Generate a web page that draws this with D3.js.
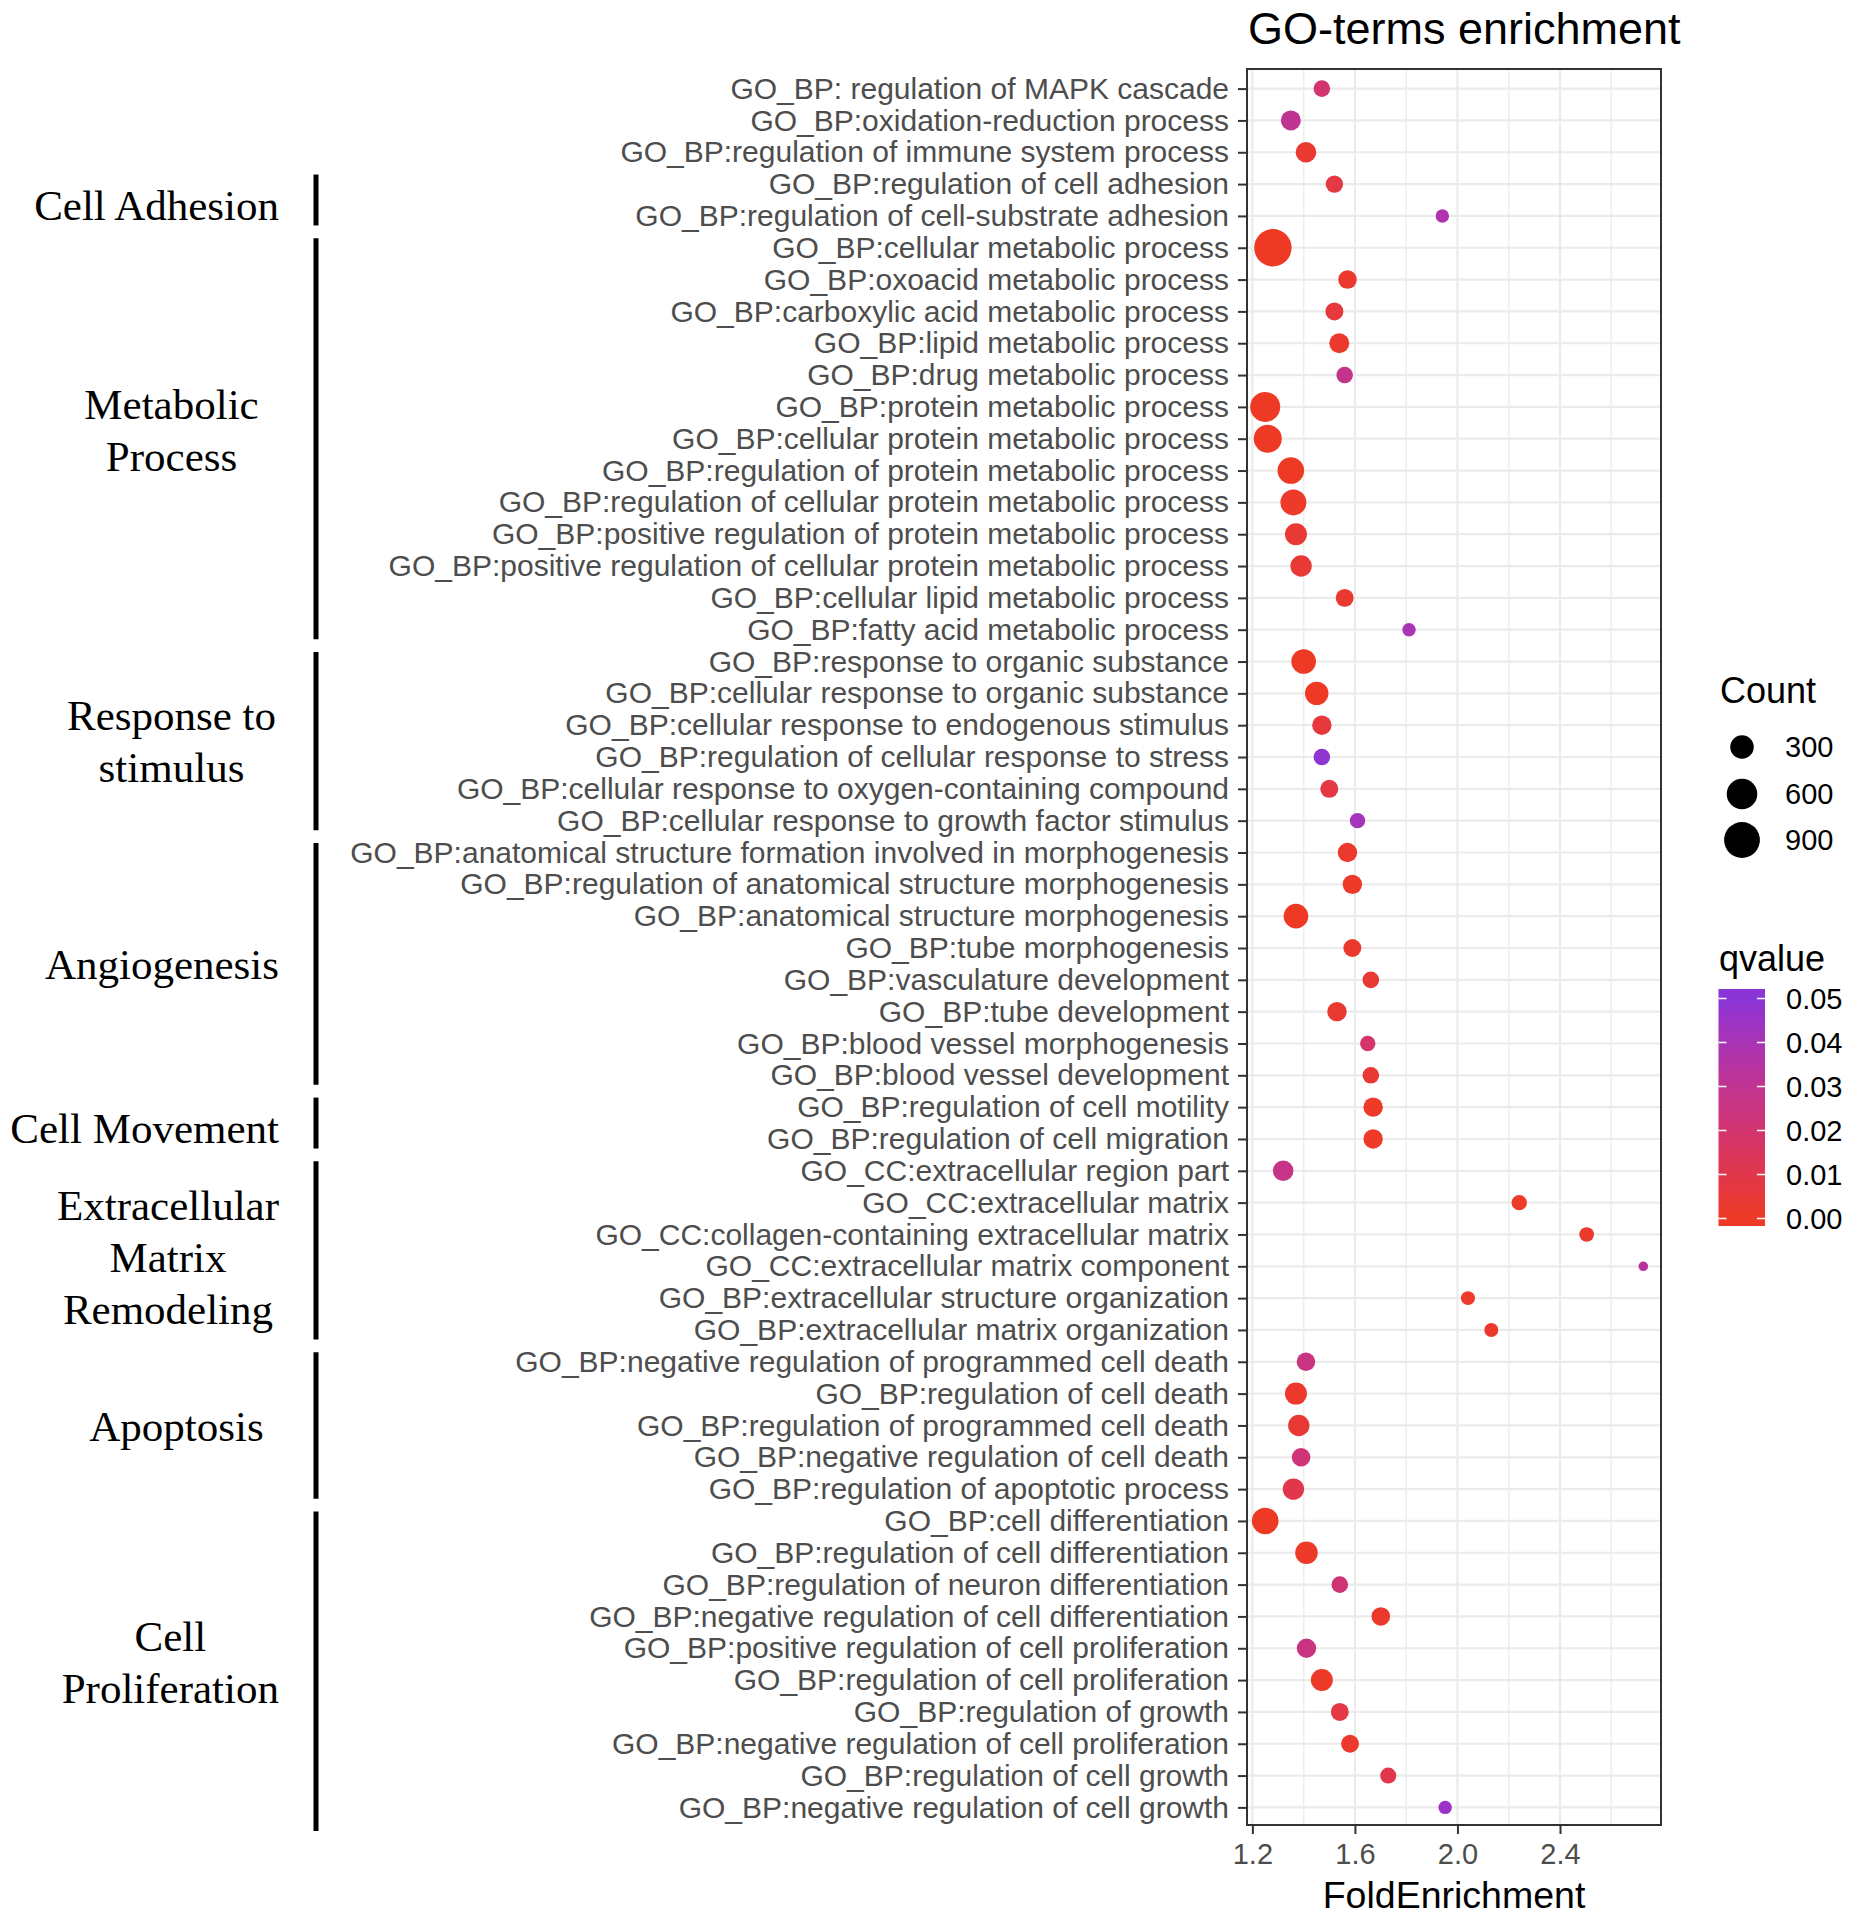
<!DOCTYPE html>
<html>
<head>
<meta charset="utf-8">
<script src="https://cdn.jsdelivr.net/npm/d3@7"></script>
<style>
  html, body { margin: 0; padding: 0; background: #fff; }
  svg { display: block; }
</style>
</head>
<body>
<svg id="chart" width="1852" height="1920"></svg>
<script>
// ---------------- DATA ----------------
const terms = [
  "GO_BP: regulation of MAPK cascade",
  "GO_BP:oxidation-reduction process",
  "GO_BP:regulation of immune system process",
  "GO_BP:regulation of cell adhesion",
  "GO_BP:regulation of cell-substrate adhesion",
  "GO_BP:cellular metabolic process",
  "GO_BP:oxoacid metabolic process",
  "GO_BP:carboxylic acid metabolic process",
  "GO_BP:lipid metabolic process",
  "GO_BP:drug metabolic process",
  "GO_BP:protein metabolic process",
  "GO_BP:cellular protein metabolic process",
  "GO_BP:regulation of protein metabolic process",
  "GO_BP:regulation of cellular protein metabolic process",
  "GO_BP:positive regulation of protein metabolic process",
  "GO_BP:positive regulation of cellular protein metabolic process",
  "GO_BP:cellular lipid metabolic process",
  "GO_BP:fatty acid metabolic process",
  "GO_BP:response to organic substance",
  "GO_BP:cellular response to organic substance",
  "GO_BP:cellular response to endogenous stimulus",
  "GO_BP:regulation of cellular response to stress",
  "GO_BP:cellular response to oxygen-containing compound",
  "GO_BP:cellular response to growth factor stimulus",
  "GO_BP:anatomical structure formation involved in morphogenesis",
  "GO_BP:regulation of anatomical structure morphogenesis",
  "GO_BP:anatomical structure morphogenesis",
  "GO_BP:tube morphogenesis",
  "GO_BP:vasculature development",
  "GO_BP:tube development",
  "GO_BP:blood vessel morphogenesis",
  "GO_BP:blood vessel development",
  "GO_BP:regulation of cell motility",
  "GO_BP:regulation of cell migration",
  "GO_CC:extracellular region part",
  "GO_CC:extracellular matrix",
  "GO_CC:collagen-containing extracellular matrix",
  "GO_CC:extracellular matrix component",
  "GO_BP:extracellular structure organization",
  "GO_BP:extracellular matrix organization",
  "GO_BP:negative regulation of programmed cell death",
  "GO_BP:regulation of cell death",
  "GO_BP:regulation of programmed cell death",
  "GO_BP:negative regulation of cell death",
  "GO_BP:regulation of apoptotic process",
  "GO_BP:cell differentiation",
  "GO_BP:regulation of cell differentiation",
  "GO_BP:regulation of neuron differentiation",
  "GO_BP:negative regulation of cell differentiation",
  "GO_BP:positive regulation of cell proliferation",
  "GO_BP:regulation of cell proliferation",
  "GO_BP:regulation of growth",
  "GO_BP:negative regulation of cell proliferation",
  "GO_BP:regulation of cell growth",
  "GO_BP:negative regulation of cell growth"
];

const foldEnrichment = [
  1.471, 1.350, 1.409, 1.520, 1.941,
  1.280, 1.571, 1.520, 1.539, 1.560, 1.250, 1.260, 1.350, 1.360, 1.370, 1.390, 1.560, 1.811,
  1.400, 1.451, 1.471, 1.471, 1.500, 1.610,
  1.571, 1.590, 1.370, 1.590, 1.662, 1.530, 1.650, 1.662,
  1.671, 1.671,
  1.320, 2.241, 2.504, 2.725, 2.041, 2.132,
  1.409, 1.370, 1.381, 1.390, 1.360,
  1.250, 1.411, 1.541, 1.701, 1.411, 1.471, 1.541, 1.581, 1.730, 1.952
];

const counts = [
  113, 192, 208, 129, 63,
  1000, 156, 142, 192, 113, 573, 479, 418, 394, 250, 231, 142, 63,
  339, 296, 176, 113, 142, 91,
  176, 176, 339, 142, 113, 176, 91, 113,
  176, 176,
  208, 91, 79, 33, 70, 70,
  156, 250, 231, 156, 231,
  418, 269, 113, 156, 176, 250, 142, 142, 102, 63
];

const qvalues = [
  0.020, 0.030, 0.003, 0.008, 0.038,
  0.000, 0.002, 0.006, 0.002, 0.028, 0.000, 0.000, 0.000, 0.001, 0.004, 0.004, 0.003, 0.040,
  0.000, 0.000, 0.006, 0.048, 0.008, 0.042,
  0.002, 0.001, 0.000, 0.002, 0.004, 0.003, 0.018, 0.004,
  0.001, 0.001,
  0.027, 0.001, 0.002, 0.034, 0.001, 0.002,
  0.025, 0.002, 0.004, 0.022, 0.010,
  0.000, 0.001, 0.022, 0.002, 0.025, 0.001, 0.008, 0.002, 0.010, 0.045
];

const xTicks = [1.2, 1.6, 2.0, 2.4];
const xMinorTicks = [1.4, 1.8, 2.2, 2.6];
const xDomain = [1.179, 2.794];

const countBreaks = [300, 600, 900];
const countLimits = [30, 1000];
const qBreaks = [0.00, 0.01, 0.02, 0.03, 0.04, 0.05];
const qLimits = [0, 0.05];

const groupNames = [
  ["Cell Adhesion"],
  ["Metabolic", "Process"],
  ["Response to", "stimulus"],
  ["Angiogenesis"],
  ["Cell Movement"],
  ["Extracellular", "Matrix", "Remodeling"],
  ["Apoptosis"],
  ["Cell", "Proliferation"]
];
const groupFirst = [
  "GO_BP:regulation of cell adhesion",
  "GO_BP:cellular metabolic process",
  "GO_BP:response to organic substance",
  "GO_BP:anatomical structure formation involved in morphogenesis",
  "GO_BP:regulation of cell motility",
  "GO_CC:extracellular region part",
  "GO_BP:negative regulation of programmed cell death",
  "GO_BP:cell differentiation"
];
const groupLast = [
  "GO_BP:regulation of cell-substrate adhesion",
  "GO_BP:fatty acid metabolic process",
  "GO_BP:cellular response to growth factor stimulus",
  "GO_BP:blood vessel development",
  "GO_BP:regulation of cell migration",
  "GO_BP:extracellular matrix organization",
  "GO_BP:regulation of apoptotic process",
  "GO_BP:negative regulation of cell growth"
];

// ---------------- LAYOUT ----------------
const panel = { left: 1247, right: 1661, top: 69, bottom: 1825 };
const sans = "'Liberation Sans', Arial, Helvetica, sans-serif";
const serif = "'Liberation Serif', 'Times New Roman', serif";
const axisGrey = "#4D4D4D";
// hand placement nudges of the annotation labels (pixels), as in the original figure
const labelNudgeY = [5, -8.5, 0, 0, 5, 7, 1, -2];
const labelNudgeX = [0, 0, 0, 0, 0, 0, 5, 0];
const barExtendBottom = [0, 0, 0, 0, 0, 0, 0, 14];

const svg = d3.select("#chart");
svg.append("rect").attr("width", 1852).attr("height", 1920).attr("fill", "#fff");

const x = d3.scaleLinear().domain(xDomain).range([panel.left, panel.right]);
const y = d3.scalePoint().domain(terms).range([panel.top + 0.5, panel.bottom + 1.5]).padding(0.6);

const sizeT = d3.scaleLinear().domain(countLimits).range([0, 1]).clamp(true);
const sizeR = d3.scaleSqrt().domain([0, 1]).range([4, 18.7]);
const radius = c => sizeR(sizeT(c));

const color = d3.scaleLinear().domain(qLimits).range(["#EE3A24", "#8A35D8"])
  .interpolate(d3.interpolateLab).clamp(true);

const data = terms.map((t, i) => ({ term: t, fe: foldEnrichment[i], count: counts[i], q: qvalues[i] }));

// Panel background + grid
const g = svg.append("g");
g.append("rect")
  .attr("x", panel.left).attr("y", panel.top)
  .attr("width", panel.right - panel.left).attr("height", panel.bottom - panel.top)
  .attr("fill", "#fff");

g.selectAll("line.vminor").data(xMinorTicks).join("line")
  .attr("x1", d => x(d)).attr("x2", d => x(d))
  .attr("y1", panel.top).attr("y2", panel.bottom)
  .attr("stroke", "#EEEEEE").attr("stroke-width", 1.6);

g.selectAll("line.vmajor").data(xTicks).join("line")
  .attr("x1", d => x(d)).attr("x2", d => x(d))
  .attr("y1", panel.top).attr("y2", panel.bottom)
  .attr("stroke", "#EBEBEB").attr("stroke-width", 2.2);

g.selectAll("line.hmajor").data(terms).join("line")
  .attr("x1", panel.left).attr("x2", panel.right)
  .attr("y1", d => y(d)).attr("y2", d => y(d))
  .attr("stroke", "#EBEBEB").attr("stroke-width", 2.2);

// Points
g.selectAll("circle.pt").data(data).join("circle")
  .attr("cx", d => x(d.fe)).attr("cy", d => y(d.term))
  .attr("r", d => radius(d.count))
  .attr("fill", d => color(d.q));

// Panel border
g.append("rect")
  .attr("x", panel.left).attr("y", panel.top)
  .attr("width", panel.right - panel.left).attr("height", panel.bottom - panel.top)
  .attr("fill", "none").attr("stroke", "#333333").attr("stroke-width", 2);

// Axes
const xAxis = svg.append("g").attr("transform", `translate(0,${panel.bottom})`)
  .call(d3.axisBottom(x).tickValues(xTicks).tickFormat(d3.format(".1f")).tickSize(9).tickPadding(9));
xAxis.select(".domain").remove();
xAxis.selectAll(".tick line").attr("stroke", "#333333").attr("stroke-width", 2);
xAxis.selectAll(".tick text").attr("fill", axisGrey).style("font-family", sans).style("font-size", "29px");

const yAxis = svg.append("g").attr("transform", `translate(${panel.left},0)`)
  .call(d3.axisLeft(y).tickSize(9).tickPadding(9));
yAxis.select(".domain").remove();
yAxis.selectAll(".tick line").attr("stroke", "#333333").attr("stroke-width", 2);
yAxis.selectAll(".tick text").attr("fill", axisGrey).style("font-family", sans).style("font-size", "30px");

// Titles
svg.append("text").attr("x", 1248).attr("y", 44)
  .style("font-family", sans).style("font-size", "45px").attr("fill", "#000")
  .text("GO-terms enrichment");

svg.append("text").attr("x", (panel.left + panel.right) / 2).attr("y", 1908)
  .attr("text-anchor", "middle")
  .style("font-family", sans).style("font-size", "37.5px").attr("fill", "#000")
  .text("FoldEnrichment");

// Count legend
const leg = svg.append("g");
leg.append("text").attr("x", 1720).attr("y", 703)
  .style("font-family", sans).style("font-size", "36px").attr("fill", "#000").text("Count");
const legY = [747, 794, 840];
leg.selectAll("circle.lg").data(countBreaks).join("circle")
  .attr("cx", 1742).attr("cy", (d, i) => legY[i]).attr("r", d => radius(d)).attr("fill", "#000");
leg.selectAll("text.lg").data(countBreaks).join("text")
  .attr("x", 1785).attr("y", (d, i) => legY[i]).attr("dy", "0.36em")
  .style("font-family", sans).style("font-size", "29px").attr("fill", "#000")
  .text(d => d);

// qvalue colourbar
leg.append("text").attr("x", 1719).attr("y", 971)
  .style("font-family", sans).style("font-size", "36px").attr("fill", "#000").text("qvalue");
const bar = { x: 1718.5, w: 46.5, top: 989, bottom: 1226 };
const yq = d3.scaleLinear().domain(qLimits).range([1218.5, 998.5]);
const defs = svg.append("defs");
const grad = defs.append("linearGradient").attr("id", "qgrad")
  .attr("x1", 0).attr("y1", 1).attr("x2", 0).attr("y2", 0);
const qBottom = yq.invert(bar.bottom), qTop = yq.invert(bar.top);
d3.range(0, 1.0001, 0.05).forEach(t => {
  const qv = qBottom + t * (qTop - qBottom);
  grad.append("stop").attr("offset", t).attr("stop-color", color(qv));
});
leg.append("rect").attr("x", bar.x).attr("y", bar.top).attr("width", bar.w)
  .attr("height", bar.bottom - bar.top).attr("fill", "url(#qgrad)");
leg.selectAll("line.qtl").data(qBreaks).join("line")
  .attr("x1", bar.x).attr("x2", bar.x + 8)
  .attr("y1", d => yq(d)).attr("y2", d => yq(d))
  .attr("stroke", "#fff").attr("stroke-width", 1.5);
leg.selectAll("line.qtr").data(qBreaks).join("line")
  .attr("x1", bar.x + bar.w - 8).attr("x2", bar.x + bar.w)
  .attr("y1", d => yq(d)).attr("y2", d => yq(d))
  .attr("stroke", "#fff").attr("stroke-width", 1.5);
leg.selectAll("text.ql").data(qBreaks).join("text")
  .attr("x", 1786).attr("y", d => yq(d)).attr("dy", "0.36em")
  .style("font-family", sans).style("font-size", "29px").attr("fill", "#000")
  .text(d => d3.format(".2f")(d));

// Group annotations
const grp = svg.append("g");
const step = y.step();
const barX = 316, lineH = 52, labelCenterX = 171.5, labelRight = 279;
groupNames.forEach((lines, i) => {
  const y0 = y(groupFirst[i]), y1 = y(groupLast[i]);
  grp.append("line").attr("x1", barX).attr("x2", barX)
    .attr("y1", y0 - 0.3 * step).attr("y2", y1 + 0.3 * step + barExtendBottom[i])
    .attr("stroke", "#000").attr("stroke-width", 5);
  const cy = (y0 + y1) / 2 + labelNudgeY[i];
  const startBase = cy - (lines.length - 1) * lineH / 2 + 15;
  const t = grp.append("text")
    .style("font-family", serif).style("font-size", "43px").attr("fill", "#000")
    .attr("text-anchor", "middle");
  lines.forEach((ln, j) => {
    t.append("tspan").attr("x", labelCenterX + labelNudgeX[i]).attr("y", startBase + j * lineH).text(ln);
  });
  // keep the block from running into the bar: shift left if too wide
  const bb = t.node().getBBox();
  if (bb.x + bb.width > labelRight) {
    const shift = bb.x + bb.width - labelRight;
    t.selectAll("tspan").attr("x", labelCenterX + labelNudgeX[i] - shift);
  }
});
</script>
</body>
</html>
